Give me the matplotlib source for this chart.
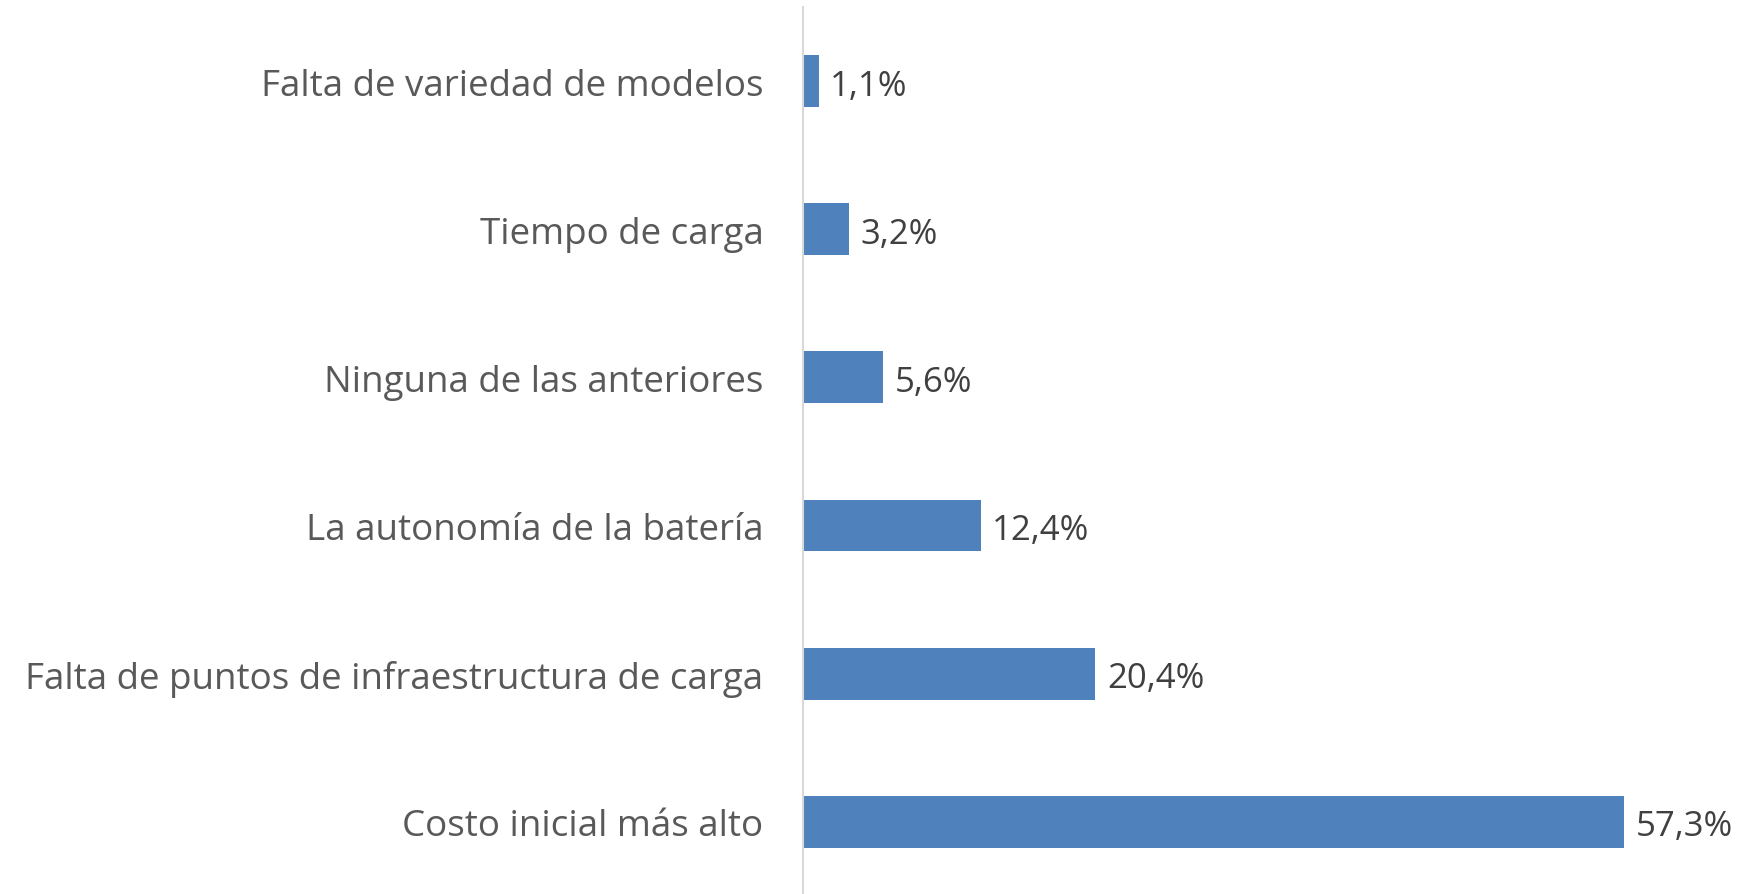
import matplotlib
matplotlib.use("Agg")
import matplotlib.pyplot as plt

categories = ["Costo inicial más alto",
              "Falta de puntos de infraestructura de carga",
              "La autonomía de la batería",
              "Ninguna de las anteriores",
              "Tiempo de carga",
              "Falta de variedad de modelos"]
values = [57.3, 20.4, 12.4, 5.6, 3.2, 1.1]
value_labels = ["57,3%", "20,4%", "12,4%", "5,6%", "3,2%", "1,1%"]

plt.rcParams['font.family'] = ['Open Sans', 'DejaVu Sans']

fig = plt.figure(figsize=(17.43, 8.95), dpi=100)
ax = fig.add_axes([803/1743, -0.002, 860/1743, 0.993])

y = list(range(len(categories)))
ax.barh(y, values, height=0.35, color="#4F81BD")
ax.set_ylim(-0.5, len(categories) - 0.5)
ax.set_xlim(0, 60)

for yi, v, lab in zip(y, values, value_labels):
    ax.text(v + 0.8, yi - 0.03, lab, va="center", ha="left", fontsize=25, color="#404040")

ax.set_yticks(y)
ax.set_yticklabels(categories, fontsize=26.5, color="#595959")
ax.tick_params(axis="y", length=0, pad=28.5)
ax.set_xticks([])
for s in ["top", "right", "bottom"]:
    ax.spines[s].set_visible(False)
ax.spines["left"].set_color("#D9D9D9")
ax.spines["left"].set_linewidth(1.5)

fig.savefig("out.png", dpi=100)
